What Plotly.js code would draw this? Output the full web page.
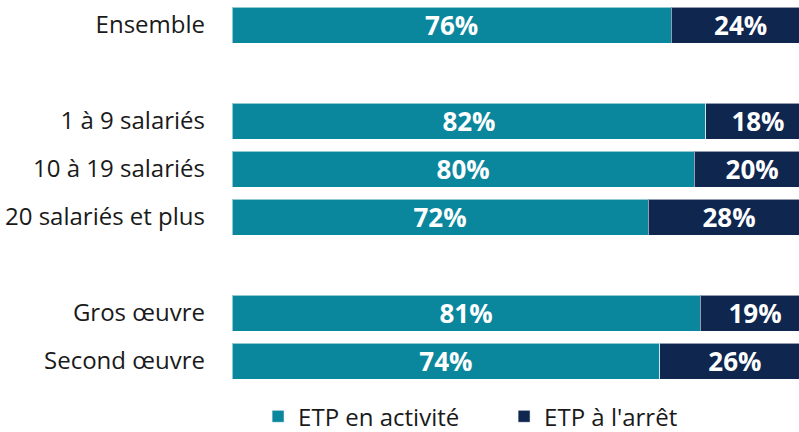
<!DOCTYPE html>
<html>
<head>
<meta charset="utf-8">
<script src="https://cdn.plot.ly/plotly-3.0.1.min.js"></script>
<style>
  html, body { margin: 0; padding: 0; background: #fff; }
  #chart { width: 799px; height: 432px; }
</style>
</head>
<body>
<div id="chart"></div>
<script>
// spacer categories (blank names) leave the gaps between groups
var categories = ['Ensemble', ' ', '1 à 9 salariés', '10 à 19 salariés', '20 salariés et plus', '  ', 'Gros œuvre', 'Second œuvre'];
var enActivite = [76, null, 82, 80, 72, null, 81, 74];
var aLArret = [24, null, 18, 20, 28, null, 19, 26];

var barText = { family: 'Open Sans', size: 26, color: '#ffffff', weight: 700 };

var trace1 = {
    type: 'bar',
    orientation: 'h',
    name: 'ETP en activité',
    y: categories,
    x: enActivite,
    marker: { color: '#0b879d', line: { color: 'rgba(255,255,255,0.55)', width: 1 } },
    texttemplate: '%{x}%',
    textposition: 'inside',
    insidetextanchor: 'middle',
    constraintext: 'none',
    textfont: barText,
    hoverinfo: 'none'
};

var trace2 = {
    type: 'bar',
    orientation: 'h',
    name: "ETP à l'arrêt",
    y: categories,
    x: aLArret,
    marker: { color: '#0f264f', line: { color: 'rgba(255,255,255,0.55)', width: 1 } },
    texttemplate: '%{x}%',
    textposition: 'inside',
    insidetextanchor: 'middle',
    constraintext: 'none',
    textfont: barText,
    hoverinfo: 'none'
};

var layout = {
    width: 799,
    height: 432,
    margin: { l: 232, r: 0, t: 1, b: 47, autoexpand: false },
    barmode: 'stack',
    bargap: 0.25,
    showlegend: true,
    font: { family: 'Open Sans', color: '#1a1a1a' },
    xaxis: {
        range: [0, 98.1],
        showgrid: false,
        zeroline: false,
        showticklabels: false,
        fixedrange: true
    },
    yaxis: {
        type: 'category',
        categoryorder: 'array',
        categoryarray: categories,
        autorange: 'reversed',
        showgrid: false,
        zeroline: false,
        ticks: '',
        ticklabelstandoff: 26,
        tickfont: { family: 'Open Sans', size: 24, color: '#1a1a1a' },
        fixedrange: true
    },
    legend: {
        orientation: 'h',
        traceorder: 'normal',
        x: 0.046,
        xanchor: 'left',
        y: -0.024,
        yanchor: 'top',
        entrywidth: 201,
        font: { family: 'Open Sans', size: 24, color: '#1a1a1a' }
    },
    paper_bgcolor: '#ffffff',
    plot_bgcolor: '#ffffff'
};

Plotly.newPlot('chart', [trace1, trace2], layout, { displayModeBar: false, staticPlot: true });
</script>
</body>
</html>
